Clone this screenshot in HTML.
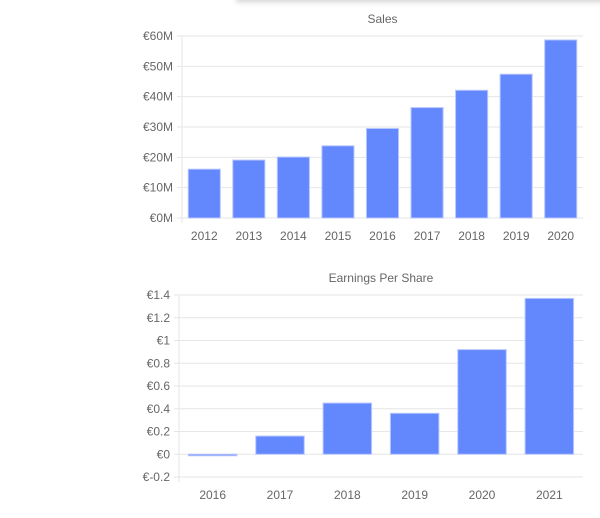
<!DOCTYPE html>
<html><head><meta charset="utf-8"><style>
html,body{margin:0;padding:0;background:#fff;width:600px;height:518px;overflow:hidden}
svg text{font-family:"Liberation Sans",Arial,sans-serif;fill:#666;font-size:12px}
</style></head><body>
<div style="position:absolute;left:236px;top:-10px;width:380px;height:10px;box-shadow:0 2px 6px rgba(0,0,0,0.18);background:#fff"></div>
<svg id="svg" width="600" height="518" xmlns="http://www.w3.org/2000/svg"></svg>
<script>
const salesCategories=["2012","2013","2014","2015","2016","2017","2018","2019","2020"];
const salesValues=[16.1,19.1,20.1,23.8,29.5,36.4,42.1,47.4,58.7];
const salesTicks=[0,10,20,30,40,50,60];
const epsCategories=["2016","2017","2018","2019","2020","2021"];
const epsValues=[-0.01,0.16,0.45,0.36,0.92,1.37];
const epsTicks=[-0.2,0,0.2,0.4,0.6,0.8,1,1.2,1.4];

const NS="http://www.w3.org/2000/svg";
const svg=document.getElementById('svg');
function mk(tag,attrs,parent){const e=document.createElementNS(NS,tag);for(const k in attrs)e.setAttribute(k,attrs[k]);(parent||svg).appendChild(e);return e;}

function chart(o){
  const g=mk('g',{});
  
  
  const min=o.ticks[0],max=o.ticks[o.ticks.length-1];
  const y=v=>o.bottom-(v-min)/(max-min)*(o.bottom-o.top);
  const bw=(o.right-o.left)/o.cats.length;
  const x=i=>o.left+bw*(i+0.5);
  const t=mk('text',{x:(o.left+o.right)/2,y:o.top-13,'text-anchor':'middle'},g);
  t.textContent=o.title;
  
  
  o.ticks.forEach(v=>{
    const l=mk('line',{x1:o.left-5,x2:o.right,y1:y(v),y2:y(v),stroke:'#e6e6e6','stroke-width':1},g);
    
    
    const tx=mk('text',{x:o.left-9,y:y(v)+4,'text-anchor':'end'},g);
    tx.textContent=o.fmt(v);
    
    
  });
  const ax=mk('line',{x1:o.left,x2:o.left,y1:o.top,y2:o.bottom+5,stroke:'#e6e6e6'},g);
  
  
  const zero=y(Math.max(0,min));
  o.vals.forEach((v,i)=>{
    const w=bw*o.frac;
    const y0=Math.min(zero,y(v)),h=Math.max(1.5,Math.abs(zero-y(v)));
    const r=mk('rect',{x:x(i)-w/2,y:y0,width:w,height:h,fill:'#6387fd',stroke:'#b8c6ff','stroke-width':1},g);
    
    
    const tx=mk('text',{x:x(i),y:o.bottom+22,'text-anchor':'middle'},g);
    tx.textContent=o.cats[i];
    
    
  });
}
chart({name:'sales-chart',title:'Sales',cats:salesCategories,vals:salesValues,ticks:salesTicks,left:182,right:583,top:36,bottom:218,frac:0.72,fmt:v=>'€'+v+'M'});
chart({name:'eps-chart',title:'Earnings Per Share',cats:epsCategories,vals:epsValues,ticks:epsTicks,left:179,right:583,top:295,bottom:477,frac:0.72,fmt:v=>'€'+(+v.toFixed(1))});
</script>
</body></html>
